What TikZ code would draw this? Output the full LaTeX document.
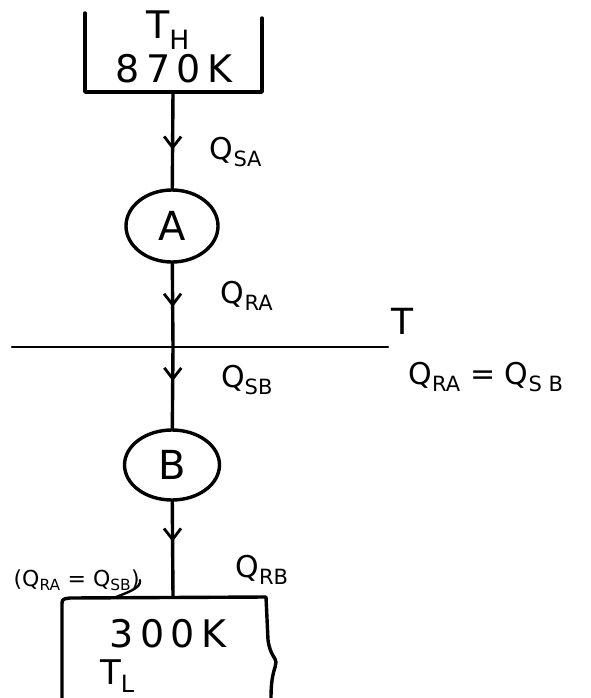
\documentclass[tikz,border=0pt]{standalone}
\usepackage{fontspec}
\setmainfont{DejaVu Sans}
\usetikzlibrary{shapes.geometric,arrows.meta,decorations.markings}
\tikzset{
  ink/.style={line width=3.4pt, line cap=round, line join=round},
  thin ink/.style={line width=2.4pt, line cap=round},
  flowmark/.style={postaction={decorate},
    decoration={markings, mark=at position #1 with {\arrow{Straight Barb[length=11pt,width=17pt,line width=2.8pt]}}}},
  lbl/.style={inner sep=0pt, font=\fontsize{30}{32}\selectfont},
  big/.style={inner sep=0pt, font=\fontsize{38}{40}\selectfont},
  engine/.style={ellipse, draw, ink, minimum width=92pt, minimum height=72pt, inner sep=0pt, font=\fontsize{40}{42}\selectfont},
}
\begin{document}
\begin{tikzpicture}[x=1pt,y=-1pt]
\useasboundingbox[fill=white] (0,0) rectangle (591,698);
% hot reservoir
\draw[ink] (85,13) -- (85,92) -- (262,92) -- (262,18);
\coordinate (hotb) at (173,92);
\node[big] (TH) at (168,30) {T\textsubscript{H}};
\node[big] (t870) at (174,69) {8\,7\,0\,K};
% engines
\node[engine] (A) at (172,226) {A};
\node[engine, minimum width=95pt, minimum height=70pt] (B) at (172,465) {B};
% intermediate temperature line
\coordinate (hl) at (12,347);
\coordinate (hr) at (388,347);
\draw[thin ink] (hl) -- (hr);
\coordinate (cross) at (173,347);
\node[big, font=\fontsize{36}{38}\selectfont] (T) at (402,321) {T};
% cold reservoir
\coordinate (coldt) at (173,597);
\draw[ink] (62,698) -- (62,606) .. controls (62,599) .. (70,598) -- (266,597) -- (268,640) .. controls (270,655) and (276,658) .. (276,662) .. controls (276,668) and (271,672) .. (271,698);
\node[big] (t300) at (168,634) {3\,0\,0\,K};
\node[big, font=\fontsize{34}{36}\selectfont, anchor=west] (TL) at (100,676) {T\textsubscript{L}};
% connectors
\draw[ink, flowmark=0.6] (hotb) -- (A);
\draw[ink, flowmark=0.52] (A) -- (cross);
\draw[ink, flowmark=0.42] (cross) -- (B);
\draw[ink, flowmark=0.42] (B) -- (coldt);
% labels
\node[lbl] (qsa) at (236,152) {Q\textsubscript{SA}};
\node[lbl] (qra) at (247,296) {Q\textsubscript{RA}};
\node[lbl] (qsb) at (247,380) {Q\textsubscript{SB}};
\node[lbl] (qrb) at (262,570) {Q\textsubscript{RB}};
\node[lbl] (eq) at (486,377) {Q\textsubscript{RA} = Q\textsubscript{S B}};
\node[lbl, font=\fontsize{22}{24}\selectfont, anchor=east] (eq2) at (140,580) {(Q\textsubscript{RA} = Q\textsubscript{SB})};
\draw[thin ink] (eq2.east) .. controls +(2,8) and +(10,-4) .. (116,597);
\end{tikzpicture}
\end{document}
